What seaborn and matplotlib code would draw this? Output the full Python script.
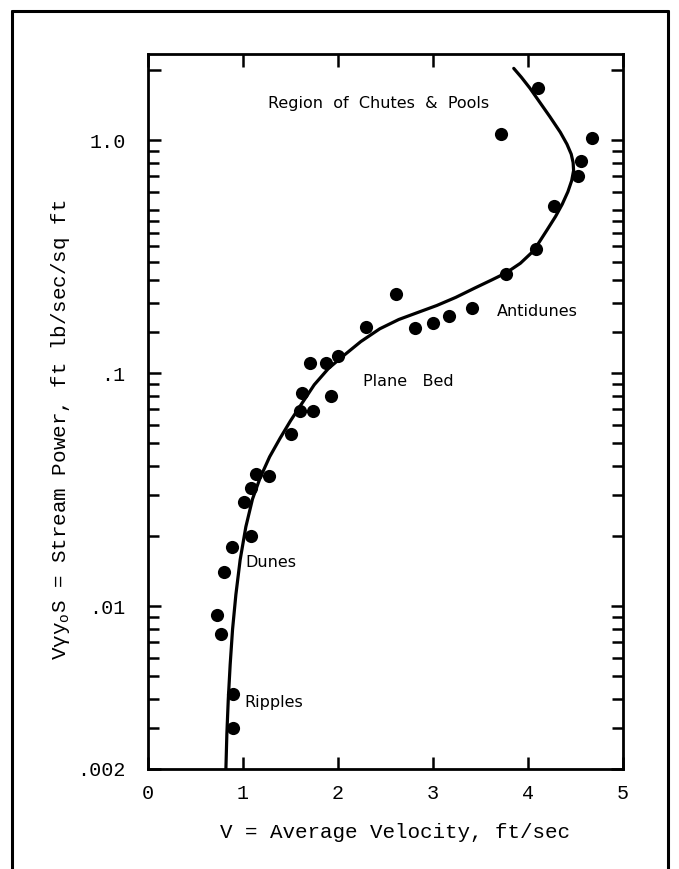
import matplotlib
matplotlib.use("Agg")
import matplotlib.pyplot as plt
import seaborn as sns
from matplotlib.lines import Line2D
from matplotlib.ticker import FixedLocator, NullFormatter

velocity = [4.11, 3.72, 4.67, 4.56, 4.53, 4.27, 4.08, 3.77, 2.61, 3.41,
            3.17, 3.00, 2.81, 2.29, 1.71, 1.87, 2.00, 1.62, 1.93, 1.60,
            1.74, 1.51, 1.14, 1.27, 1.08, 1.01, 1.08, 0.88, 0.80, 0.73,
            0.77, 0.89, 0.89]
stream_power = [1.68, 1.06, 1.02, 0.81, 0.70, 0.52, 0.34, 0.267, 0.218, 0.190,
                0.176, 0.164, 0.156, 0.158, 0.110, 0.111, 0.118, 0.082, 0.080, 0.069,
                0.069, 0.055, 0.037, 0.036, 0.032, 0.028, 0.020, 0.018, 0.014, 0.0092,
                0.0076, 0.0042, 0.0030]

# hand drawn curve, traced point by point
curve_velocity = [0.82, 0.83, 0.845, 0.865, 0.89, 0.925, 0.97, 1.03, 1.10, 1.18,
                  1.28, 1.39, 1.50, 1.62, 1.75, 1.90, 2.06, 2.24, 2.44, 2.64,
                  2.84, 3.04, 3.24, 3.44, 3.62, 3.77, 3.92, 4.06, 4.20, 4.29,
                  4.36, 4.42, 4.46, 4.48, 4.475, 4.455, 4.41, 4.34, 4.23, 4.12,
                  4.02, 3.93, 3.85]
curve_power = [0.0020, 0.00282, 0.00398, 0.00562, 0.00794, 0.0112, 0.0158, 0.0219, 0.0288, 0.0355,
               0.0437, 0.0525, 0.0624, 0.0741, 0.0891, 0.1047, 0.1189, 0.1365, 0.1549, 0.1698,
               0.1820, 0.1950, 0.2113, 0.2317, 0.2512, 0.2692, 0.296, 0.335, 0.411, 0.47,
               0.53, 0.60, 0.67, 0.74, 0.80, 0.87, 0.96, 1.08, 1.26, 1.46,
               1.67, 1.86, 2.03]

x_ticks = [0, 1, 2, 3, 4, 5]
y_ticks = [0.002, 0.01, 0.1, 1.0, 2.0]
y_tick_labels = [".002", ".01", ".1", "1.0", ""]
y_minor = [0.003, 0.004, 0.005, 0.006, 0.007, 0.008, 0.009,
           0.02, 0.03, 0.04, 0.05, 0.06, 0.07, 0.08, 0.09,
           0.15, 0.2, 0.25, 0.3, 0.35, 0.4, 0.45, 0.5, 0.6, 0.7, 0.8, 0.9]

sns.set_style("ticks")
plt.rcParams['font.family'] = ['Liberation Mono', 'DejaVu Sans']
plt.rcParams['mathtext.fontset'] = 'custom'
plt.rcParams['mathtext.rm'] = 'Liberation Mono'
for key in ['text.color', 'axes.labelcolor', 'xtick.color', 'ytick.color']:
    plt.rcParams[key] = 'black'

fig = plt.figure(figsize=(6.79, 8.69), dpi=100)
ax = fig.add_axes([148 / 679, 100 / 869, 475 / 679, 715 / 869])

sns.lineplot(x=curve_velocity, y=curve_power, sort=False, estimator=None,
             color='black', linewidth=2.3, ax=ax)
sns.scatterplot(x=velocity, y=stream_power, s=90, color='black',
                edgecolor='black', linewidth=0, ax=ax, zorder=3)

ax.set_yscale('log')
ax.set_xlim(0, 5)
ax.set_ylim(0.002, 2.34)
ax.set_xticks(x_ticks)
ax.set_xticklabels([str(t) for t in x_ticks])
ax.set_yticks(y_ticks)
ax.set_yticklabels(y_tick_labels)
ax.yaxis.set_minor_locator(FixedLocator(y_minor))
ax.yaxis.set_minor_formatter(NullFormatter())

ax.tick_params(which='both', direction='in', top=True, right=True,
               width=1.8, color='black', labelsize=14.5)
ax.tick_params(which='major', length=9)
ax.tick_params(which='minor', length=8)
ax.tick_params(axis='y', pad=16)
ax.tick_params(axis='x', pad=11)
for sp in ax.spines.values():
    sp.set_linewidth(2)
    sp.set_color('black')

ax.set_xlabel("V = Average Velocity, ft/sec", fontsize=15)
ax.set_ylabel(r"Vγ$\mathrm{y}_\mathrm{o}$S = Stream Power, ft lb/sec/sq ft", fontsize=15)
ax.xaxis.set_label_coords(0.52, -0.075)
ax.yaxis.set_label_coords(-0.16, 0.475)

# region names
note = dict(family='DejaVu Sans', fontsize=11.5, ha='left', va='center', color='black')
ax.text(1.263, 1.428, "Region  of  Chutes  &  Pools", **note)
ax.text(3.674, 0.183, "Antidunes", **note)
ax.text(2.263, 0.0924, "Plane   Bed", **note)
ax.text(1.021, 0.01545, "Dunes", **note)
ax.text(1.011, 0.00384, "Ripples", **note)

# page frame around the scanned figure
W, H = 679, 869
for xs, ys in [([11.5, 11.5], [0, H - 10.5]),
               ([11.5, 668], [H - 10.5, H - 10.5]),
               ([668, 668], [H - 10.5, 0])]:
    fig.add_artist(Line2D([x / W for x in xs], [y / H for y in ys],
                          color='black', linewidth=2.2))

fig.savefig("out.png", dpi=100)
